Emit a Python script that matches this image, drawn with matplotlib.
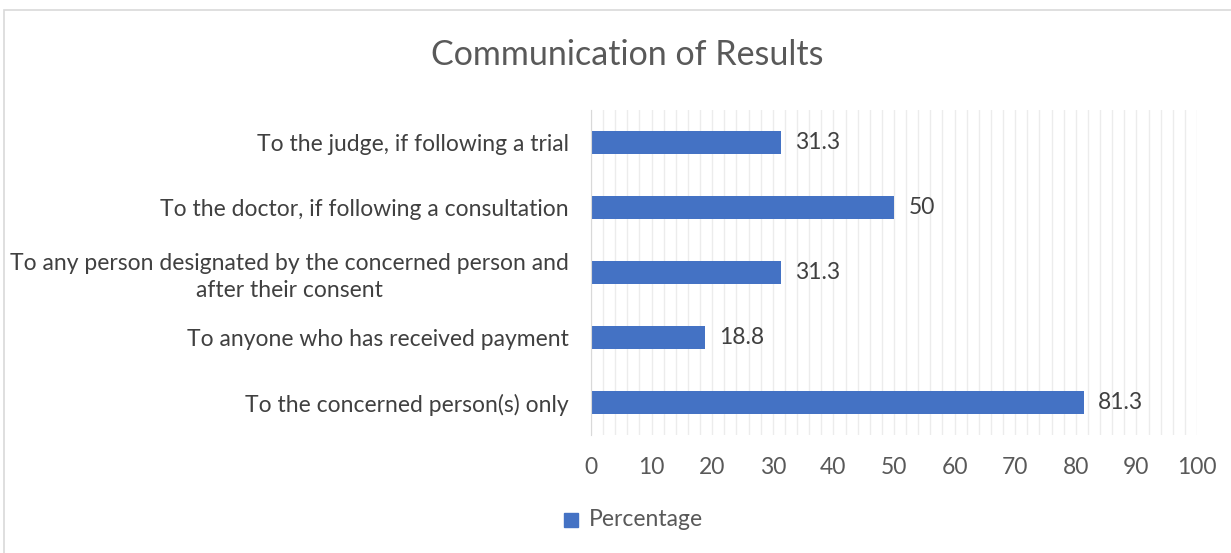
import matplotlib.pyplot as plt
from matplotlib.ticker import MultipleLocator
from matplotlib.patches import Rectangle

categorias = [
    "To the concerned person(s) only",
    "To anyone who has received payment",
    "To any person designated by the concerned person and\nafter their consent",
    "To the doctor, if following a consultation",
    "To the judge, if following a trial",
]
valores = [81.3, 18.8, 31.3, 50, 31.3]
rotulos = ["81.3", "18.8", "31.3", "50", "31.3"]

plt.rcParams['font.family'] = ['Lato', 'DejaVu Sans']

fig = plt.figure(figsize=(12.31, 5.53), dpi=100)

# moldura do grafico
fig.patches.append(Rectangle((4 / 1231, -0.05), 1.1, 1 - 10 / 553 + 0.05,
                             transform=fig.transFigure, fill=False,
                             edgecolor="#d9d9d9", linewidth=1.2))

ax = fig.add_axes([591 / 1231, 1 - 435 / 553, (1197 - 591) / 1231, 325 / 553])

y = range(len(categorias))
ax.barh(y, valores, height=0.34, color="#4472C4", zorder=3)

for yi, v, txt in zip(y, valores, rotulos):
    ax.text(v + 2.4, yi, txt, va="center", ha="left", fontsize=16.5, color="#404040")

ax.set_xlim(0, 100)
ax.set_ylim(-0.5, len(categorias) - 0.5)
ax.set_yticks(list(y))
ax.set_yticklabels(categorias, fontsize=16.5, color="#404040", linespacing=1.35)

ax.xaxis.set_major_locator(MultipleLocator(10))
ax.xaxis.set_minor_locator(MultipleLocator(2))
ax.grid(True, axis="x", which="both", color="#ececec", linewidth=1, zorder=0)
ax.tick_params(axis="x", which="both", length=0, labelsize=16.5, labelcolor="#595959", pad=16)
ax.tick_params(axis="y", length=0, pad=16)
for lbl in ax.get_yticklabels():
    lbl.set_multialignment("center")

for s in ["top", "right", "bottom"]:
    ax.spines[s].set_visible(False)
ax.spines["left"].set_color("#d9d9d9")
ax.spines["left"].set_zorder(4)

fig.text(627 / 1231, 1 - 55 / 553, "Communication of Results", ha="center", va="center",
         fontsize=24.5, color="#595959")

# legenda
fig.patches.append(Rectangle((564 / 1231, 1 - 527 / 553), 14 / 1231, 14 / 553,
                             transform=fig.transFigure, color="#4472C4"))
fig.text(589 / 1231, 1 - 520 / 553, "Percentage", ha="left", va="center",
         fontsize=16.5, color="#595959")

fig.savefig("out.png", dpi=100)
plt.close(fig)
